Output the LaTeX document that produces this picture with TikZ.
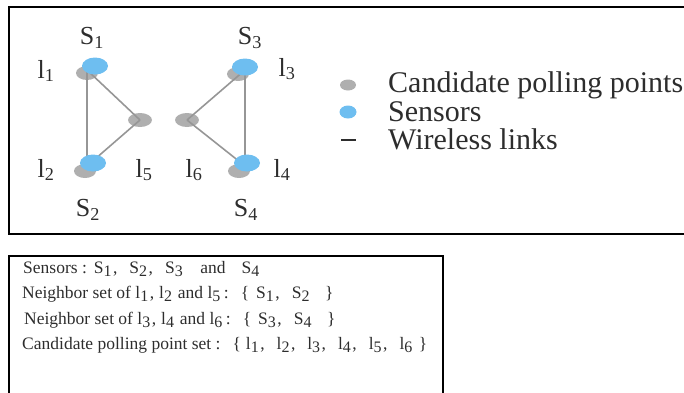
\documentclass[tikz,border=0pt]{standalone}
\usepackage{fontspec}
\setmainfont{Liberation Serif}
\usetikzlibrary{shapes.geometric}
\definecolor{sensorblue}{RGB}{110,190,240}
\definecolor{pollgray}{RGB}{175,175,175}
\definecolor{linkgray}{RGB}{150,150,150}
\definecolor{textgray}{RGB}{45,45,45}
% subscript index in the set summary
\newcommand{\ix}[1]{\raisebox{-3.5pt}{\fontsize{16}{16}\selectfont #1}\hspace{1.5pt}}
\newcommand{\setsep}{,\hspace{12pt}}
\tikzset{
  frame/.style={line width=2.6pt, black},
  sensor/.style={ellipse, fill=sensorblue, minimum width=26pt, minimum height=17pt, inner sep=0pt},
  shade/.style={ellipse, fill=pollgray, minimum width=22pt, minimum height=14pt, inner sep=0pt},
  poll/.style={ellipse, fill=pollgray, minimum width=24pt, minimum height=14pt, inner sep=0pt},
  link/.style={linkgray, line width=1.6pt},
  lbl/.style={font=\fontsize{26}{26}\selectfont, text=textgray, inner sep=0pt},
  legtext/.style={font=\fontsize{30}{30}\selectfont, text=textgray, anchor=west, inner sep=0pt},
  info/.style={font=\fontsize{17.5}{17.5}\selectfont, text=textgray, anchor=west, inner sep=0pt}
}
\begin{document}
\begin{tikzpicture}[x=1pt, y=-1pt]
\useasboundingbox (0,0) rectangle (684,392);
% frames
\draw[frame] (700,7) -- (9,7) -- (9,234) -- (700,234);
\draw[frame] (9,400) -- (9,256) -- (443,256) -- (443,400);
% shadows under the sensors
\node[shade] (h1) at (87,73) {};
\node[shade] (h2) at (85,171) {};
\node[shade] (h3) at (238,74) {};
\node[shade] (h4) at (239,171) {};
% candidate polling points
\node[poll] (l5) at (140,120) {};
\node[poll] (l6) at (187,120) {};
% wireless links
\coordinate (a1) at (87,70);
\coordinate (a2) at (87,166);
\coordinate (a3) at (245,70);
\coordinate (a4) at (245,166);
\draw[link] (a1) -- (a2);
\draw[link] (a1) -- (l5.center);
\draw[link] (a2) -- (l5.center);
\draw[link] (a3) -- (a4);
\draw[link] (a3) -- (l6.center);
\draw[link] (a4) -- (l6.center);
% sensors
\node[sensor] (s1) at (95,66) {};
\node[sensor] (s2) at (93,163) {};
\node[sensor] (s3) at (245,67) {};
\node[sensor] (s4) at (247,163) {};
% labels
\node[lbl] (ts1) at (92,38) {S$_{\mathrm{1}}$};
\node[lbl] (ts2) at (88,210) {S$_{\mathrm{2}}$};
\node[lbl] (ts3) at (250,38) {S$_{\mathrm{3}}$};
\node[lbl] (ts4) at (246,210) {S$_{\mathrm{4}}$};
\node[lbl] (tl1) at (46,71) {l$_{\mathrm{1}}$};
\node[lbl] (tl2) at (46,170) {l$_{\mathrm{2}}$};
\node[lbl] (tl3) at (287,69) {l$_{\mathrm{3}}$};
\node[lbl] (tl4) at (282,170) {l$_{\mathrm{4}}$};
\node[lbl] (tl5) at (144,170) {l$_{\mathrm{5}}$};
\node[lbl] (tl6) at (194,170) {l$_{\mathrm{6}}$};
% legend
\node[poll, minimum width=16pt, minimum height=11pt] (kp) at (348,85) {};
\node[sensor, minimum width=17pt, minimum height=13pt] (ks) at (348,112) {};
\coordinate (kl1) at (341,140);
\coordinate (kl2) at (356,140);
\draw[textgray, line width=1.2pt] (kl1) -- (kl2);
\node[legtext] (tp) at (388,85) {Candidate polling points};
\node[legtext] (tsn) at (388,112) {Sensors};
\node[legtext] (tw) at (388,139) {Wireless links};
% summary of the sets
\node[info] (i1) at (23,269) {Sensors :\hspace{7pt}S\ix{1}\setsep S\ix{2}\setsep S\ix{3}\hspace{16pt}and\hspace{16pt}S\ix{4}};
\node[info] (i2) at (22,294) {Neighbor set of l\ix{1},\hspace{5pt}l\ix{2} and l\ix{5}\hspace{2pt}:\hspace{12pt}\{\hspace{7pt}S\ix{1}\setsep S\ix{2}\hspace{14pt}\}};
\node[info] (i3) at (24,320) {Neighbor set of l\ix{3},\hspace{5pt}l\ix{4} and l\ix{6}\hspace{2pt}:\hspace{12pt}\{\hspace{7pt}S\ix{3}\setsep S\ix{4}\hspace{14pt}\}};
\node[info] (i4) at (22,345) {Candidate polling point set :\hspace{12pt}\{\hspace{5pt}l\ix{1}\setsep l\ix{2}\setsep l\ix{3}\setsep l\ix{4}\setsep l\ix{5}\setsep l\ix{6}\hspace{5pt}\}};
\end{tikzpicture}
\end{document}
